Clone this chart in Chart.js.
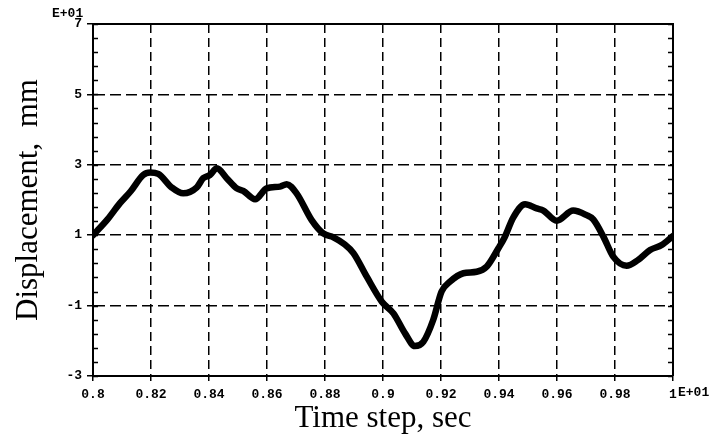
<!DOCTYPE html>
<html>
<head>
<meta charset="utf-8">
<script src="https://cdn.jsdelivr.net/npm/chart.js@4/dist/chart.umd.min.js"></script>
<style>
  html, body { margin: 0; padding: 0; background: #fff; }
  #wrap { width: 714px; height: 442px; }
</style>
</head>
<body>
<div id="wrap"><canvas id="dispChart" width="714" height="442"></canvas></div>
<script>
// time (sec) and displacement (x10 mm)
const timeSec = [
  0.800, 0.805, 0.8093, 0.813, 0.8173, 0.8197, 0.8225, 0.8271, 0.8311, 0.8358,
  0.838, 0.8403, 0.8427, 0.8461, 0.8496, 0.8518, 0.8559, 0.8599, 0.8645, 0.8668,
  0.8702, 0.8754, 0.8794, 0.8829, 0.8866, 0.8898, 0.8944, 0.8996, 0.9036, 0.9076,
  0.911, 0.9139, 0.9173, 0.9202, 0.9231, 0.9277, 0.9323, 0.9358, 0.9398, 0.942,
  0.9449, 0.949, 0.953, 0.9553, 0.9599, 0.9656, 0.9702, 0.9725, 0.976, 0.9794,
  0.984, 0.988, 0.9921, 0.9961, 1.000
];
const displacement = [
  1.00, 1.45, 1.91, 2.25, 2.71, 2.78, 2.74, 2.36, 2.19, 2.36,
  2.62, 2.71, 2.90, 2.62, 2.33, 2.26, 2.02, 2.33, 2.38, 2.45,
  2.19, 1.43, 1.05, 0.94, 0.75, 0.49, -0.18, -0.89, -1.22, -1.79,
  -2.15, -2.03, -1.41, -0.60, -0.32, -0.08, -0.04, 0.11, 0.63, 0.95,
  1.50, 1.88, 1.76, 1.70, 1.41, 1.70, 1.57, 1.45, 0.96, 0.39,
  0.13, 0.30, 0.58, 0.72, 0.98
];
const xTicks = [0.8, 0.82, 0.84, 0.86, 0.88, 0.9, 0.92, 0.94, 0.96, 0.98, 1.0];
const yTicks = [-3, -1, 1, 3, 5, 7];
const yMinorStep = 0.4;

const tickFont = { family: 'Liberation Mono', size: 13, weight: 'bold' };
const titleFont = { family: 'Liberation Serif', size: 31 };

//------------------frame, minor ticks and exponent labels------------------
const framePlugin = {
  id: 'frame',
  afterDraw(chart) {
    const { ctx, chartArea: a, scales: { x, y } } = chart;
    ctx.save();
    ctx.strokeStyle = '#000';
    ctx.lineWidth = 2;
    ctx.beginPath();
    ctx.moveTo(a.left, a.top);
    ctx.lineTo(a.right, a.top);
    ctx.lineTo(a.right, a.bottom);
    ctx.stroke();

    // little inward ticks on left and right axes
    ctx.lineWidth = 1.5;
    const yMin = yTicks[0];
    const yMax = yTicks[yTicks.length - 1];
    for (let v = yMin; v <= yMax + 1e-6; v += yMinorStep) {
      const py = Math.round(y.getPixelForValue(v)) + 0.5;
      ctx.beginPath();
      ctx.moveTo(a.left, py);
      ctx.lineTo(a.left + 5, py);
      ctx.moveTo(a.right, py);
      ctx.lineTo(a.right - 5, py);
      ctx.stroke();
    }

    ctx.fillStyle = '#000';
    ctx.font = 'bold 13px "Liberation Mono"';
    ctx.textBaseline = 'middle';
    ctx.textAlign = 'left';
    ctx.fillText('E+01', 52, 14);
    const lastX = x.getPixelForValue(xTicks[xTicks.length - 1]);
    ctx.fillText('E+01', lastX + 5, 393);
    ctx.restore();
  }
};

const points = timeSec.map((t, i) => ({ x: t, y: displacement[i] }));

new Chart(document.getElementById('dispChart'), {
  type: 'line',
  data: {
    datasets: [{
      data: points,
      borderColor: '#000',
      borderWidth: 6.5,
      pointRadius: 0,
      fill: false,
      cubicInterpolationMode: 'monotone',
      borderCapStyle: 'round',
      borderJoinStyle: 'round'
    }]
  },
  options: {
    responsive: false,
    animation: false,
    layout: { padding: { top: 24, right: 41, left: 0, bottom: 0 } },
    plugins: { legend: { display: false }, tooltip: { enabled: false } },
    scales: {
      x: {
        type: 'linear',
        min: xTicks[0],
        max: xTicks[xTicks.length - 1],
        afterBuildTicks: (s) => { s.ticks = xTicks.map((v) => ({ value: v })); },
        afterFit: (s) => { s.height = 66; },
        ticks: {
          color: '#000',
          font: tickFont,
          padding: 6,
          maxRotation: 0,
          autoSkip: false,
          callback: (v) => String(+Number(v).toFixed(2))
        },
        grid: { color: '#000', lineWidth: 1.5, tickLength: 5, tickColor: '#000' },
        border: { color: '#000', width: 2, dash: [9, 5] },
        title: {
          display: true,
          text: 'Time step, sec',
          color: '#000',
          font: titleFont,
          padding: { top: 0, bottom: 5 }
        }
      },
      y: {
        min: yTicks[0],
        max: yTicks[yTicks.length - 1],
        afterBuildTicks: (s) => { s.ticks = yTicks.map((v) => ({ value: v })); },
        afterFit: (s) => { s.width = 93; },
        ticks: { color: '#000', font: tickFont, padding: 5 },
        grid: { color: '#000', lineWidth: 1.5, tickLength: 6, tickColor: '#000' },
        border: { color: '#000', width: 2, dash: [11, 5] },
        title: {
          display: true,
          text: 'Displacement,  mm',
          color: '#000',
          font: titleFont,
          padding: { top: 10, bottom: 0 }
        }
      }
    }
  },
  plugins: [framePlugin]
});
</script>
</body>
</html>
